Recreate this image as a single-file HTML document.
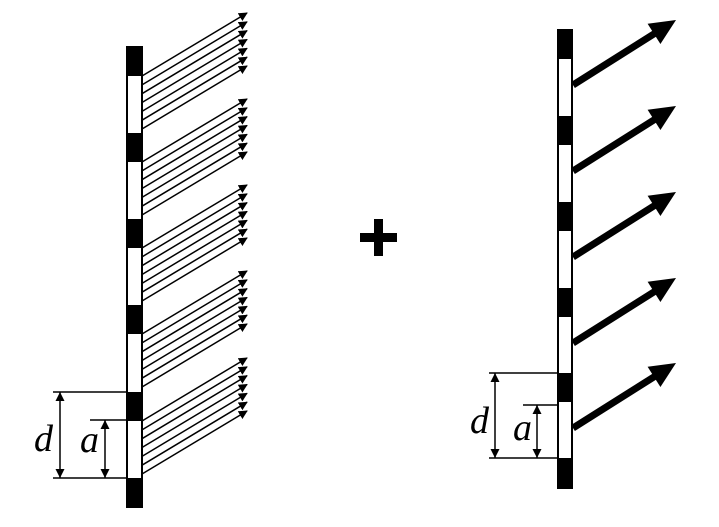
<!DOCTYPE html>
<html><head><meta charset="utf-8"><style>
html,body{margin:0;padding:0;background:#fff;width:719px;height:527px;overflow:hidden}
text{font-family:"Liberation Serif",serif;font-style:italic}
</style></head><body>
<svg id="s" width="719" height="527" viewBox="0 0 719 527" xmlns="http://www.w3.org/2000/svg">
<defs>
<marker id="th" viewBox="0 0 10 10" refX="9" refY="5" markerWidth="9" markerHeight="9" markerUnits="userSpaceOnUse" orient="auto"><path d="M0,0 L10,5 L0,10 z" fill="#000"/></marker>
<marker id="dim" viewBox="0 0 10 10" refX="10" refY="5" markerWidth="12" markerHeight="9" markerUnits="userSpaceOnUse" orient="auto"><path d="M0,0 L10,5 L0,10 z" fill="#000"/></marker>
</defs>
<g id="left">
<rect x="127" y="47" width="15" height="460" fill="#fff" stroke="#000" stroke-width="2"/>
</g>
<g id="right">
<rect x="558" y="30" width="14" height="458" fill="#fff" stroke="#000" stroke-width="2"/>
</g>
<g>
<rect x="360" y="233" width="37" height="9" fill="#000"/>
<rect x="374" y="219" width="9" height="37" fill="#000"/>
</g>
<g stroke="#000" stroke-width="1.5">
<line x1="53" y1="392" x2="127" y2="392"/>
<line x1="90" y1="420" x2="127" y2="420"/>
<line x1="53" y1="478" x2="127" y2="478"/>
<line x1="60" y1="435" x2="60" y2="392" marker-end="url(#dim)"/>
<line x1="60" y1="435" x2="60" y2="478" marker-end="url(#dim)"/>
<line x1="105" y1="449" x2="105" y2="420" marker-end="url(#dim)"/>
<line x1="105" y1="449" x2="105" y2="478" marker-end="url(#dim)"/>
</g>
<text x="34" y="451" font-size="38">d</text>
<text x="80" y="452" font-size="38">a</text>
<g stroke="#000" stroke-width="1.5">
<line x1="489" y1="373" x2="558" y2="373"/>
<line x1="523" y1="405" x2="558" y2="405"/>
<line x1="489" y1="458" x2="558" y2="458"/>
<line x1="495" y1="415" x2="495" y2="373" marker-end="url(#dim)"/>
<line x1="495" y1="415" x2="495" y2="458" marker-end="url(#dim)"/>
<line x1="537" y1="431" x2="537" y2="405" marker-end="url(#dim)"/>
<line x1="537" y1="431" x2="537" y2="458" marker-end="url(#dim)"/>
</g>
<text x="470" y="433" font-size="38">d</text>
<text x="513" y="440" font-size="38">a</text>
</svg>
<script>
const NS="http://www.w3.org/2000/svg";
const leftBlackTops=[47,133,219,305,392,478];
const rightBlackTops=[30,116,202,288,373,458];
const raysPerSlit=7;
const L=document.getElementById('left'),R=document.getElementById('right');
function mk(t,a,p){const e=document.createElementNS(NS,t);for(const k in a)e.setAttribute(k,a[k]);p.appendChild(e);return e;}
leftBlackTops.forEach((y,i)=>{
  const b=mk('rect',{x:127,y:y,width:15,height:29,fill:'#000'},L);
  
  
  if(i<leftBlackTops.length-1){
    for(let j=0;j<raysPerSlit;j++){
      const y0=y+29+j*(57/(raysPerSlit-1))*0.93;
      const ln=mk('line',{x1:142,y1:y0,x2:247,y2:y0-63,stroke:'#000','stroke-width':1.5,'marker-end':'url(#th)'},L);
      
      
    }
  }
});
rightBlackTops.forEach((y,i)=>{
  const b=mk('rect',{x:558,y:y,width:14,height:29,fill:'#000'},R);
  
  
  if(i<rightBlackTops.length-1){
    const y0=y+55,x0=573,x1=676,y1=y0-65;
    const g=mk('g',{},R);
    
    
    const dx=x1-x0,dy=y1-y0,len=Math.hypot(dx,dy),ux=dx/len,uy=dy/len,nx=-uy,ny=ux;
    const hl=26,hw=12;
    const bx=x1-ux*hl,by=y1-uy*hl;
    mk('line',{x1:x0,y1:y0,x2:bx+ux*2,y2:by+uy*2,stroke:'#000','stroke-width':7},g);
    mk('path',{d:`M${x1},${y1} L${bx+nx*hw},${by+ny*hw} L${bx-nx*hw},${by-ny*hw} Z`,fill:'#000'},g);
  }
});
</script>
</body></html>
